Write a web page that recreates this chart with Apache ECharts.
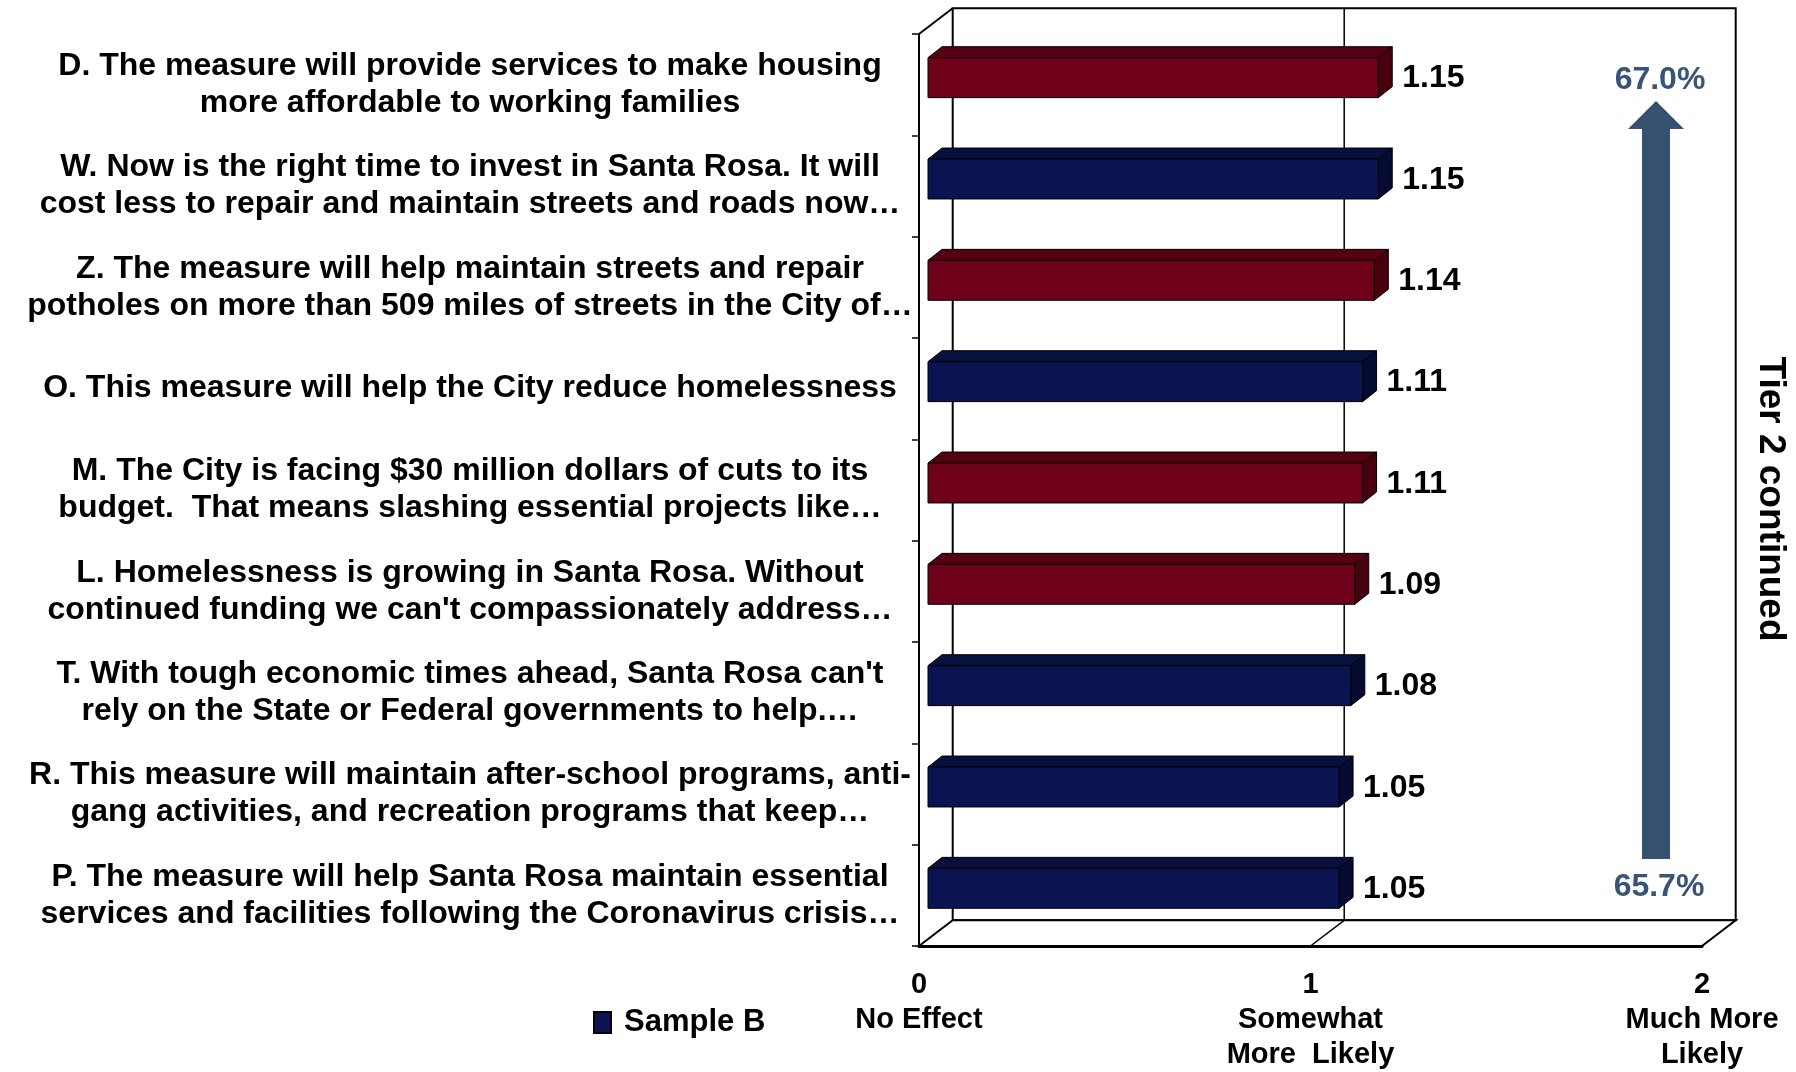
<!DOCTYPE html>
<html>
<head>
<meta charset="utf-8">
<script src="https://cdn.jsdelivr.net/npm/echarts@6.0.0/dist/echarts.min.js"></script>
<style>
  html, body { margin: 0; padding: 0; background: #ffffff; }
  #chart { width: 1796px; height: 1072px; }
</style>
</head>
<body>
<div id="chart"></div>
<script>
// ---------------- data ----------------
const categories = [
  "D. The measure will provide services to make housing\nmore affordable to working families",
  "W. Now is the right time to invest in Santa Rosa. It will\ncost less to repair and maintain streets and roads now…",
  "Z. The measure will help maintain streets and repair\npotholes on more than 509 miles of streets in the City of…",
  "O. This measure will help the City reduce homelessness",
  "M. The City is facing $30 million dollars of cuts to its\nbudget.  That means slashing essential projects like…",
  "L. Homelessness is growing in Santa Rosa. Without\ncontinued funding we can't compassionately address…",
  "T. With tough economic times ahead, Santa Rosa can't\nrely on the State or Federal governments to help.…",
  "R. This measure will maintain after-school programs, anti-\ngang activities, and recreation programs that keep…",
  "P. The measure will help Santa Rosa maintain essential\nservices and facilities following the Coronavirus crisis…"
];
const values = [1.15, 1.15, 1.14, 1.11, 1.11, 1.09, 1.08, 1.05, 1.05];
const sampleGroup = ["A", "B", "A", "B", "A", "A", "B", "B", "B"];
const xTickLabels = ["No Effect", "Somewhat\nMore  Likely", "Much More\nLikely"];
const tierPercents = ["67.0%", "65.7%"];
const tierTitle = "Tier 2 continued";
const legendName = "Sample B";

// ---------------- styles ----------------
const FONT = "'Liberation Sans', Arial, sans-serif";
const COLORS = {
  A: { front: "#6F0019", top: "#560013", side: "#48000F" },
  B: { front: "#0B1450", top: "#08103D", side: "#060C31" }
};
const DEPTH = [33.7, -25.7];     // full wall depth offset (px)
const BAR_FRONT = [9, -7];       // bar front face offset
const BAR_DEPTH = [14, -11];     // bar thickness offset
const ARROW_COLOR = "#36506F";
const PCT_COLOR = "#3A5378";

const chart = echarts.init(document.getElementById("chart"), null, { renderer: "canvas" });

function renderWalls(params, api) {
  const cs = params.coordSys;
  const L = cs.x, R = cs.x + cs.width, T = cs.y, B = cs.y + cs.height;
  const dx = DEPTH[0], dy = DEPTH[1];
  const g1 = api.coord([1, 0])[0];
  const line = (x1, y1, x2, y2, w) => ({
    type: "line",
    shape: { x1, y1, x2, y2 },
    style: { stroke: "#000", lineWidth: w || 2 }
  });
  return {
    type: "group",
    children: [
      { type: "rect", shape: { x: L + dx, y: T + dy, width: R - L, height: B - T },
        style: { fill: "#fff", stroke: "#000", lineWidth: 2 } },
      { type: "polygon", shape: { points: [[L, B], [R, B], [R + dx, B + dy], [L + dx, B + dy]] },
        style: { fill: "#fff", stroke: "#000", lineWidth: 2 } },
      line(L, T, L + dx, T + dy, 2),
      line(g1 + dx, T + dy, g1 + dx, B + dy, 1.5),
      line(g1, B, g1 + dx, B + dy, 1.5)
    ]
  };
}

function renderBar(params, api) {
  const v = api.value(0);
  const idx = api.value(1);
  const grp = sampleGroup[params.dataIndex];
  const c = COLORS[grp];
  const p0 = api.coord([0, idx]);
  const p1 = api.coord([v, idx]);
  const band = api.size([0, 1])[1];
  const h = band * 0.394;
  const x0 = p0[0] + BAR_FRONT[0];
  const x1 = p1[0] + BAR_FRONT[0];
  const yT = p0[1] + BAR_FRONT[1] - h / 2;
  const yB = yT + h;
  const bx = BAR_DEPTH[0], by = BAR_DEPTH[1];
  const stroke = { stroke: "#000", lineWidth: 1 };
  return {
    type: "group",
    children: [
      { type: "polygon", shape: { points: [[x0, yT], [x1, yT], [x1 + bx, yT + by], [x0 + bx, yT + by]] },
        style: Object.assign({ fill: c.top }, stroke) },
      { type: "polygon", shape: { points: [[x1, yT], [x1 + bx, yT + by], [x1 + bx, yB + by], [x1, yB]] },
        style: Object.assign({ fill: c.side }, stroke) },
      { type: "rect", shape: { x: x0, y: yT, width: x1 - x0, height: h },
        style: Object.assign({ fill: c.front }, stroke) },
      { type: "text", x: x1 + bx + 10, y: yT + h / 2 + 1,
        style: { text: v.toFixed(2), fill: "#000", font: "bold 32px " + FONT,
                 textAlign: "left", textVerticalAlign: "middle" } }
    ]
  };
}

const option = {
  backgroundColor: "#ffffff",
  animation: false,
  grid: { left: 919, right: 94, top: 34, bottom: 123, containLabel: false },
  legend: {
    data: [legendName],
    left: 588, top: 1002,
    icon: "rect", itemWidth: 17, itemHeight: 21,
    selectedMode: false,
    textStyle: { fontFamily: FONT, fontWeight: "bold", fontSize: 31, color: "#000", padding: [0, 0, 0, 8] }
  },
  xAxis: {
    type: "value", min: 0, max: 2, interval: 1,
    axisLine: { show: true, onZero: false, lineStyle: { color: "#000", width: 3 } },
    axisTick: { show: false },
    splitLine: { show: false },
    axisLabel: {
      show: true, showMinLabel: true, showMaxLabel: true,
      margin: 21,
      fontFamily: FONT, fontWeight: "bold", fontSize: 29, lineHeight: 35, color: "#000",
      formatter: (v) => v + "\n" + xTickLabels[Math.round(v)]
    }
  },
  yAxis: {
    type: "category", data: categories, inverse: true,
    axisLine: { show: true, lineStyle: { color: "#000", width: 2 } },
    axisTick: { show: true, length: 7, lineStyle: { color: "#000", width: 1.5 } },
    splitLine: { show: false },
    axisLabel: {
      margin: 449, align: "center", padding: [8, 0, 0, 0],
      fontFamily: FONT, fontWeight: "bold", fontSize: 32, lineHeight: 37, color: "#000"
    }
  },
  series: [
    {
      type: "custom", name: "walls", z: 1, silent: true,
      renderItem: renderWalls, data: [[0, 0]], encode: { x: 0, y: 1 }, clip: false
    },
    {
      type: "custom", name: legendName, z: 3,
      itemStyle: { color: COLORS.B.front, borderColor: "#000", borderWidth: 1 },
      renderItem: renderBar,
      data: values.map((v, i) => [v, i]),
      encode: { x: 0, y: 1 }, clip: false
    }
  ],
  graphic: [
    { type: "polygon", z: 10,
      shape: { points: [[1656, 101], [1684, 129], [1670, 129], [1670, 859], [1642, 859], [1642, 129], [1628, 129]] },
      style: { fill: ARROW_COLOR } },
    { type: "text", z: 10, x: 1660, y: 80,
      style: { text: tierPercents[0], fill: PCT_COLOR, font: "bold 32px " + FONT, textAlign: "center", textVerticalAlign: "middle" } },
    { type: "text", z: 10, x: 1659, y: 887,
      style: { text: tierPercents[1], fill: PCT_COLOR, font: "bold 32px " + FONT, textAlign: "center", textVerticalAlign: "middle" } },
    { type: "text", z: 10, x: 1770, y: 499, rotation: -Math.PI / 2,
      style: { text: tierTitle, fill: "#000", font: "bold 37px " + FONT, textAlign: "center", textVerticalAlign: "middle" } }
  ]
};

chart.setOption(option);
</script>
</body>
</html>
